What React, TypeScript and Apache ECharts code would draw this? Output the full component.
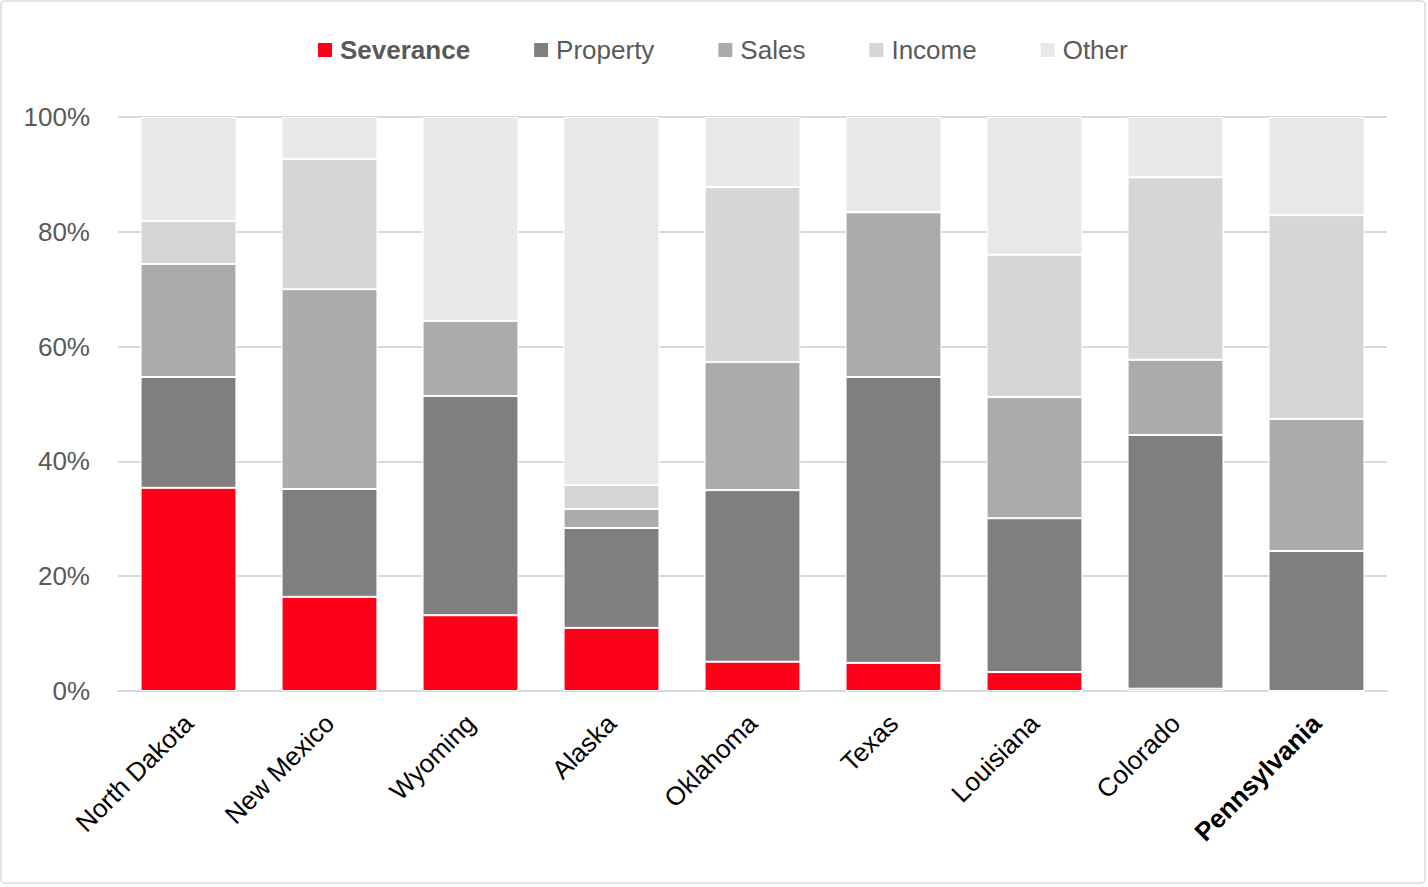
import React, { useEffect, useRef } from "react";
import * as echarts from "echarts";

// States ordered by severance-tax share
const states = [
  "North Dakota",
  "New Mexico",
  "Wyoming",
  "Alaska",
  "Oklahoma",
  "Texas",
  "Louisiana",
  "Colorado",
  "Pennsylvania",
];

// Share of state tax revenue by source (percent)
const severance = [35.4, 16.4, 13.2, 11.0, 5.1, 4.9, 3.3, 0.4, 0];
const property = [19.3, 18.8, 38.2, 17.4, 29.9, 49.8, 26.8, 44.2, 24.4];
const sales = [19.7, 34.8, 13.1, 3.3, 22.3, 28.7, 21.1, 13.1, 23.0];
const income = [7.5, 22.7, 0, 4.2, 30.5, 0, 24.8, 31.8, 35.5];
const other = [18.1, 7.3, 35.5, 64.1, 12.2, 16.6, 24.0, 10.5, 17.1];

const yTicks = [0, 20, 40, 60, 80, 100];

const seriesDefs = [
  { name: "Severance", data: severance, color: "#FF0019" },
  { name: "Property", data: property, color: "#7F7F7F" },
  { name: "Sales", data: sales, color: "#ABABAB" },
  { name: "Income", data: income, color: "#D6D6D6" },
  { name: "Other", data: other, color: "#E8E8E8" },
];

const FONT = "'Liberation Sans', Arial, sans-serif";

export default function App() {
  const ref = useRef<HTMLDivElement>(null);

  useEffect(() => {
    if (!ref.current) return;
    const chart = echarts.init(ref.current, null, { renderer: "svg" });
    chart.setOption({
      animation: false,
      backgroundColor: "#FFFFFF",
      textStyle: { fontFamily: FONT },
      graphic: [
        {
          type: "rect",
          shape: { x: 1, y: 1, width: 1424, height: 882, r: 4 },
          style: { fill: "none", stroke: "#D9D9D9", lineWidth: 1.5 },
          silent: true,
        },
      ],
      legend: {
        top: 32,
        left: 313,
        itemWidth: 14,
        itemHeight: 14,
        itemGap: 64,
        icon: "rect",
        itemStyle: { borderWidth: 0 },
        data: seriesDefs.map((s) => s.name),
        formatter: (name: string) =>
          name === "Severance" ? `{b|${name}}` : `{n|${name}}`,
        textStyle: {
          color: "#595959",
          fontSize: 26,
          fontFamily: FONT,
          padding: [0, 0, 0, 3],
          rich: {
            b: { fontSize: 26, fontWeight: "bold", color: "#595959", fontFamily: FONT },
            n: { fontSize: 26, color: "#595959", fontFamily: FONT },
          },
        },
      },
      grid: { left: 118, right: 41, top: 117, bottom: 196, containLabel: false },
      xAxis: {
        type: "category",
        data: states,
        axisTick: { show: false },
        axisLine: { lineStyle: { color: "#D9D9D9", width: 2 } },
        axisLabel: {
          rotate: 45,
          margin: 28,
          interval: 0,
          color: "#000000",
          fontSize: 26,
          fontFamily: FONT,
          formatter: (v: string) => (v === "Pennsylvania" ? `{b|${v}}` : `{n|${v}}`),
          rich: {
            b: { fontSize: 26, fontWeight: "bold", color: "#000000", fontFamily: FONT },
            n: { fontSize: 26, color: "#000000", fontFamily: FONT },
          },
        },
      },
      yAxis: {
        type: "value",
        min: yTicks[0],
        max: yTicks[yTicks.length - 1],
        interval: 20,
        axisLine: { show: false },
        axisTick: { show: false },
        splitLine: { lineStyle: { color: "#D9D9D9", width: 2 } },
        axisLabel: {
          formatter: "{value}%",
          color: "#595959",
          fontSize: 26,
          margin: 28,
          fontFamily: FONT,
        },
      },
      series: seriesDefs.map((s) => ({
        name: s.name,
        type: "bar",
        stack: "total",
        barCategoryGap: "32%",
        data: s.data,
        itemStyle: { color: s.color, borderColor: "#FFFFFF", borderWidth: 1 },
        emphasis: { disabled: true },
      })),
    });
    return () => chart.dispose();
  }, []);

  return (
    <div
      ref={ref}
      style={{ position: "fixed", left: 0, top: 0, width: 1428, height: 887 }}
    />
  );
}
